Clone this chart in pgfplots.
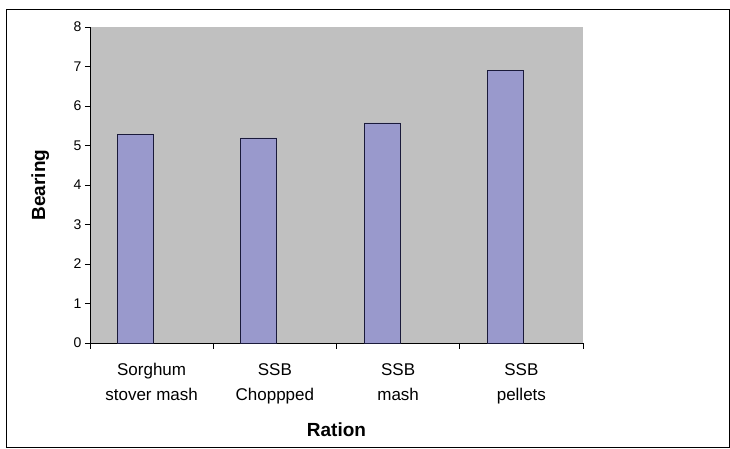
\documentclass[border=0pt]{standalone}
\usepackage{pgfplots}
\pgfplotsset{compat=1.18}
\usepackage{fontspec}
\setmainfont{Liberation Sans}
\definecolor{plotbg}{HTML}{C0C0C0}
\definecolor{barfill}{HTML}{9999CC}
\definecolor{baredge}{HTML}{1A1A3A}
\begin{document}
\begin{tikzpicture}
\useasboundingbox (0pt,0pt) rectangle (730pt,449pt);
\draw[black, line width=1pt] (6pt,1pt) rectangle (729pt,439pt);
\begin{axis}[
    at={(90pt,106pt)}, anchor=south west,
    width=493pt, height=316pt, scale only axis,
    xmin=0, xmax=4, ymin=0, ymax=8,
    axis lines=left, axis line style={-, black, line width=0.8pt},
    axis background/.style={fill=plotbg},
    ytick={0,1,...,8},
    xtick={0.5,1.5,2.5,3.5},
    xticklabels={{Sorghum\\stover mash},{SSB\\Choppped},{SSB\\mash},{SSB\\pellets}},
    xticklabel style={align=center, font=\fontsize{17}{25}\selectfont, yshift=-12pt},
    major x tick style={draw=none},
    minor xtick={0,1,2,3,4},
    minor x tick style={black, line width=0.8pt},
    minor tick length=6pt,
    major tick length=5pt,
    y tick style={black, line width=0.8pt},
    tick align=outside,
    yticklabel style={font=\fontsize{14}{16}\selectfont},
    /pgf/number format/assume math mode=true,
    xlabel={\textbf{Ration}},
    ylabel={\textbf{Bearing}},
    xlabel style={font=\fontsize{19}{22}\selectfont, at={(axis description cs:0.5,0)}, anchor=center, yshift=-87pt},
    ylabel style={font=\fontsize{19}{22}\selectfont, at={(axis description cs:-0.101,0.5)}, anchor=center},
    clip=false,
]
\addplot[ybar, bar width=36pt, fill=barfill, draw=baredge, line width=0.8pt]
    coordinates {(0.37,5.29) (1.37,5.19) (2.37,5.57) (3.37,6.91)};
\end{axis}
\end{tikzpicture}
\end{document}
